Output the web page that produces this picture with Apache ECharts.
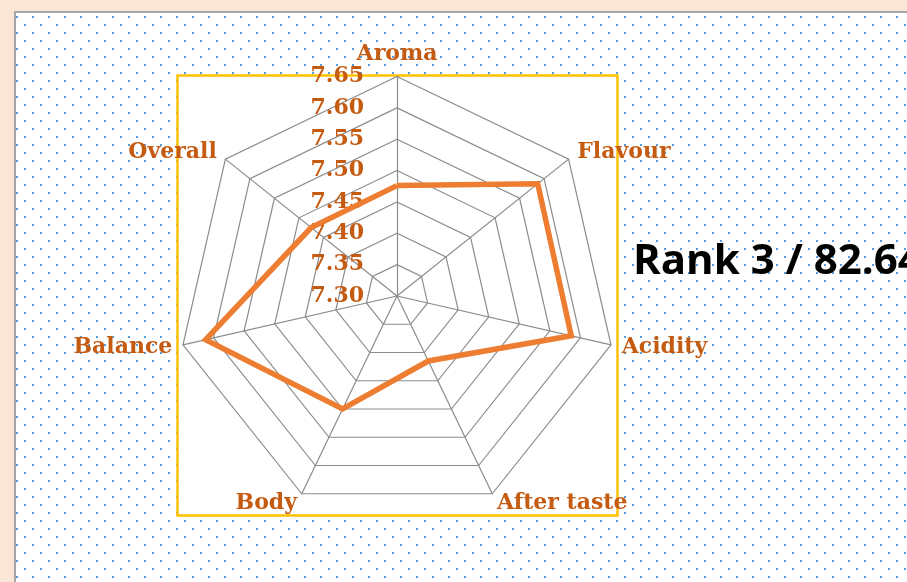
<!DOCTYPE html>
<html>
<head>
<meta charset="utf-8">
<script src="https://cdn.jsdelivr.net/npm/echarts@6/dist/echarts.min.js"></script>
<style>
  html, body { margin: 0; padding: 0; background: #fbe5d6; overflow: hidden; }
  #sheet {
    position: absolute; left: 14px; top: 11px; width: 900px; height: 580px;
    border-left: 2px solid #a6a6a6; border-top: 2px solid #a6a6a6;
    background-color: #ffffff;
    background-image: url("data:image/svg+xml,%3Csvg xmlns='http://www.w3.org/2000/svg' width='16' height='16'%3E%3Crect x='0' y='0' width='2' height='2' fill='%235b9bd5'/%3E%3Crect x='8' y='8' width='2' height='2' fill='%235b9bd5'/%3E%3C/svg%3E");
    background-position: 0px 3px;
  }
  #chart { position: absolute; left: 0; top: 0; width: 907px; height: 582px; }
</style>
</head>
<body>
<div id="sheet"></div>
<div id="chart"></div>
<script>
// clockwise from the top, as in the original sheet
const categories = ['Aroma', 'Flavour', 'Acidity', 'After taste', 'Body', 'Balance', 'Overall'];
const scores = [7.476, 7.587, 7.585, 7.415, 7.50, 7.613, 7.475];
const scaleMin = 7.30;
const scaleMax = 7.65;
const rankText = 'Rank 3 / 82.64';

// echarts lays indicators out anticlockwise, so flip everything after the first one
const order = [0].concat(categories.map((c, i) => i).slice(1).reverse());

const labelColor = '#c55a11';
const serif = 'DejaVu Serif';

var myChart = echarts.init(document.getElementById('chart'));
myChart.setOption({
  animation: false,
  graphic: [
    {
      type: 'rect',
      z: -10,
      shape: { x: 177.5, y: 75.5, width: 440, height: 440 },
      style: { fill: '#ffffff', stroke: '#ffc000', lineWidth: 2.5 }
    },
    {
      type: 'text',
      left: 633,
      top: 241,
      style: {
        text: rankText,
        fill: '#000000',
        font: 'bold 42px "Open Sans"'
      }
    }
  ],
  radar: {
    center: [397, 296],
    radius: 219.5,
    startAngle: 90,
    shape: 'polygon',
    splitNumber: 7,
    nameGap: 11,
    axisName: {
      color: labelColor,
      fontFamily: serif,
      fontWeight: 'bold',
      fontSize: 22
    },
    indicator: order.map((i, k) => ({
      name: categories[i],
      min: scaleMin,
      max: scaleMax,
      axisLabel: { show: k === 0 }
    })),
    axisLine: { lineStyle: { color: '#8c8c8c', width: 1.2 } },
    splitLine: { lineStyle: { color: '#8c8c8c', width: 1.2 } },
    splitArea: { show: false },
    axisTick: { show: false },
    axisLabel: {
      show: true,
      margin: 33,
      color: labelColor,
      fontFamily: serif,
      fontWeight: 'bold',
      fontSize: 22,
      formatter: v => v.toFixed(2)
    }
  },
  series: [
    {
      name: 'Score',
      type: 'radar',
      symbol: 'none',
      lineStyle: { color: '#ed7d31', width: 5.5, join: 'miter' },
      data: [{ value: order.map(i => scores[i]) }]
    }
  ]
});
</script>
</body>
</html>
